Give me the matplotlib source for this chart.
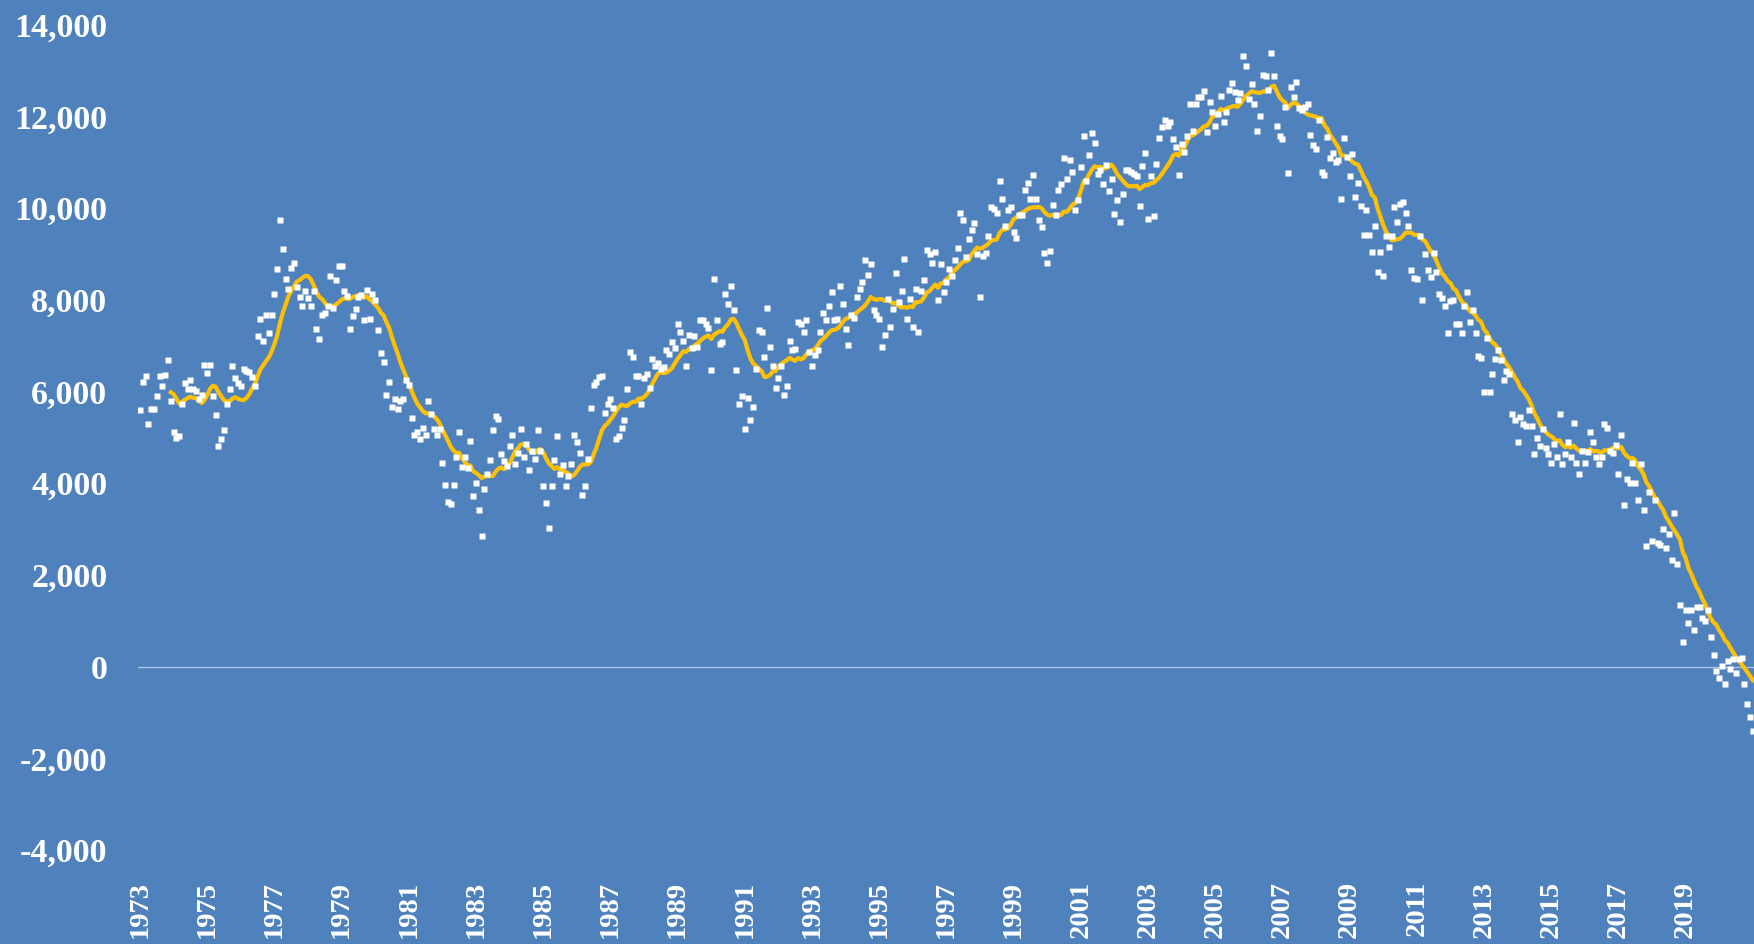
import numpy as np
import pandas as pd
import matplotlib
matplotlib.use("Agg")
import matplotlib.pyplot as plt

# --- Monthly values, one row per year starting Jan 1973 ---
monthly_values = [
    5590, 6200, 6330, 5280, 5610, 5620, 5890, 6330, 6110, 6360, 6680, 5800,  # 1973
    5110, 4980, 5020, 5720, 6190, 6060, 6240, 6060, 6000, 5840, 5930, 6580,  # 1974
    6400, 6580, 5890, 5490, 4800, 4970, 5150, 5720, 6060, 6550, 6300, 6190,  # 1975
    6110, 6500, 6440, 6420, 6310, 6110, 7200, 7590, 7100, 7670, 7280, 7670,  # 1976
    8120, 8680, 9730, 9110, 8460, 8240, 8690, 8810, 8280, 8070, 7860, 8200,  # 1977
    8040, 7860, 8200, 7370, 7150, 7670, 7700, 7860, 8510, 7820, 8420, 8730,  # 1978
    8730, 8200, 8090, 7370, 7640, 7800, 8060, 8100, 7550, 8220, 7590, 8130,  # 1979
    7990, 7330, 6840, 6640, 5930, 6200, 5660, 5840, 5620, 5800, 5830, 6240,  # 1980
    6150, 5410, 5060, 5110, 4970, 5200, 5060, 5800, 5500, 5190, 5040, 5190,  # 1981
    4450, 3970, 3590, 3550, 3970, 4580, 5110, 4350, 4580, 4330, 4930, 3710,  # 1982
    4000, 3410, 2840, 3880, 4190, 4500, 5150, 5460, 5400, 4630, 4480, 4370,  # 1983
    4800, 5060, 4410, 4660, 5190, 4580, 4850, 4280, 4700, 4530, 5150, 4710,  # 1984
    3930, 3570, 3020, 3930, 4500, 5020, 4190, 4400, 3930, 4150, 4410, 5060,  # 1985
    4890, 4660, 3750, 3930, 4530, 5630, 6150, 6200, 6310, 6340, 5540, 5720,  # 1986
    5840, 5630, 4970, 5020, 5200, 5370, 6060, 6850, 6760, 6330, 6330, 5720,  # 1987
    6290, 6370, 6070, 6700, 6550, 6630, 6500, 6530, 6900, 6810, 7070, 6940,  # 1988
    7460, 7300, 7110, 6550, 7240, 6940, 7200, 6970, 7550, 7550, 7460, 7380,  # 1989
    6460, 8460, 7550, 7030, 7070, 8120, 7900, 8290, 7770, 6460, 5720, 5890,  # 1990
    5190, 5850, 5370, 5670, 6500, 7330, 7290, 6760, 7810, 6980, 6550, 6070,  # 1991
    6300, 6550, 5930, 6110, 7110, 6900, 6930, 7510, 7460, 7300, 7550, 6860,  # 1992
    6550, 6800, 6910, 7300, 7700, 7560, 7860, 8170, 7550, 7590, 8290, 7900,  # 1993
    7370, 7020, 7660, 7600, 8070, 8240, 8390, 8860, 8550, 8770, 7770, 7660,  # 1994
    7590, 6980, 7240, 8020, 7400, 7800, 8590, 7950, 8200, 8890, 7590, 8020,  # 1995
    7400, 8240, 7300, 8200, 8420, 9080, 9000, 8810, 9040, 7990, 8770, 8170,  # 1996
    8390, 8680, 8520, 8860, 9130, 9900, 9730, 8930, 9330, 9510, 9680, 9000,  # 1997
    8070, 8950, 9020, 9400, 10020, 9970, 9890, 10600, 10200, 9600, 9950, 10020,  # 1998
    9480, 9350, 9850, 9850, 10390, 10550, 10200, 10730, 10200, 9730, 9590, 9030,  # 1999
    8810, 9060, 10070, 9850, 10390, 10520, 11090, 10640, 11040, 10790, 9950, 10170,  # 2000
    10890, 11570, 10600, 11160, 11640, 11420, 10750, 10820, 10520, 10940, 10380, 10640,  # 2001
    9860, 10170, 9690, 10300, 10820, 10820, 10780, 10750, 10700, 10040, 10910, 11210,  # 2002
    9770, 10700, 9820, 10950, 11530, 11770, 11910, 11790, 11880, 11500, 11340, 10730,  # 2003
    11400, 11220, 11570, 12260, 11680, 12260, 12420, 12430, 12550, 11660, 12310, 12100,  # 2004
    11780, 12060, 12440, 11870, 12090, 12570, 12730, 12530, 12350, 12500, 13310, 13090,  # 2005
    12380, 12700, 12260, 11690, 12010, 12910, 12880, 12570, 13390, 12870, 11780, 11580,  # 2006
    11510, 12200, 10770, 12650, 12420, 12750, 12190, 12140, 12200, 12260, 11600, 11380,  # 2007
    11290, 11910, 10780, 10730, 11550, 11090, 11210, 11000, 11040, 10200, 11530, 11110,  # 2008
    10690, 11170, 10250, 10550, 10040, 9420, 9950, 9420, 9040, 9600, 8600, 9040,  # 2009
    8510, 9400, 9160, 9400, 10020, 9690, 10080, 10130, 9900, 9600, 8640, 8470,  # 2010
    8460, 9390, 7990, 8990, 8640, 8500, 9030, 8600, 8120, 8030, 7870, 7270,  # 2011
    7970, 7990, 7460, 7460, 7270, 7860, 8160, 7510, 7770, 7270, 6770, 6720,  # 2012
    5980, 7160, 5980, 6370, 6700, 6900, 6680, 6240, 6450, 6370, 5500, 5370,  # 2013
    4890, 5440, 5300, 5240, 5590, 5240, 4630, 4980, 4810, 5190, 4760, 4630,  # 2014
    4450, 4850, 4580, 5500, 4410, 4640, 4890, 4580, 5320, 4450, 4190, 4700,  # 2015
    4450, 4680, 5110, 4890, 4580, 4410, 4580, 5280, 5200, 4700, 4660, 4840,  # 2016
    4190, 5060, 3530, 4100, 4000, 4450, 4000, 3630, 4410, 3410, 2620, 3800,  # 2017
    2730, 3630, 2690, 2650, 3000, 2580, 2890, 2320, 3360, 2230, 1350, 530,  # 2018
    1230, 960, 1230, 790, 1300, 1310, 1070, 1000, 1230, 650, 260, -100,  # 2019
    -250, 10, -380, 120, -50, 160, -140, 160, 190, -380, -810, -1090,  # 2020
    -1400,  # 2021
]

tick_years = ["1973", "1975", "1977", "1979", "1981", "1983", "1985", "1987",
              "1989", "1991", "1993", "1995", "1997", "1999", "2001", "2003",
              "2005", "2007", "2009", "2011", "2013", "2015", "2017", "2019"]
y_ticks = [-4000, -2000, 0, 2000, 4000, 6000, 8000, 10000, 12000, 14000]

# --- Styling ---
BG = "#4F81BD"
GOLD = "#FFC000"
W, H = 1754, 944

plt.rcParams["font.family"] = ["Liberation Serif", "DejaVu Serif"]

series = pd.Series(monthly_values, dtype=float)
months = np.arange(len(series))
trend = series.rolling(12).mean()  # 12-period moving average trendline

fig = plt.figure(figsize=(W / 100, H / 100), dpi=100, facecolor=BG)
ax = fig.add_axes([138 / W, 1 - 850 / H, (W - 138) / W, (850 - 24.6) / H])
ax.set_facecolor(BG)

ax.axhline(0, color="#A9C1E3", lw=1.0, zorder=1)
ax.plot(months, trend, color=GOLD, lw=3.0, solid_joinstyle="round", zorder=2)
ax.plot(months, series, ls="none", marker="s", ms=4.0, mfc="white", mec="none", zorder=3)

ax.set_xlim((138 - 140) / 2.8, (W - 140) / 2.8)
ax.set_ylim(-4000, 14000)

ax.set_xticks(np.arange(len(tick_years)) * 24)
ax.set_xticklabels(tick_years, rotation=90, fontsize=20.5, fontweight="bold",
                   color="white", va="top", ha="center")
ax.set_yticks(y_ticks)
ax.set_yticklabels([f"{v:,}" for v in y_ticks], fontsize=24.5, fontweight="bold",
                   color="white")
ax.tick_params(axis="x", length=0, pad=22)
ax.tick_params(axis="y", length=0, pad=22)

for s in ax.spines.values():
    s.set_visible(False)

fig.savefig("out.png", dpi=100, facecolor=BG)
